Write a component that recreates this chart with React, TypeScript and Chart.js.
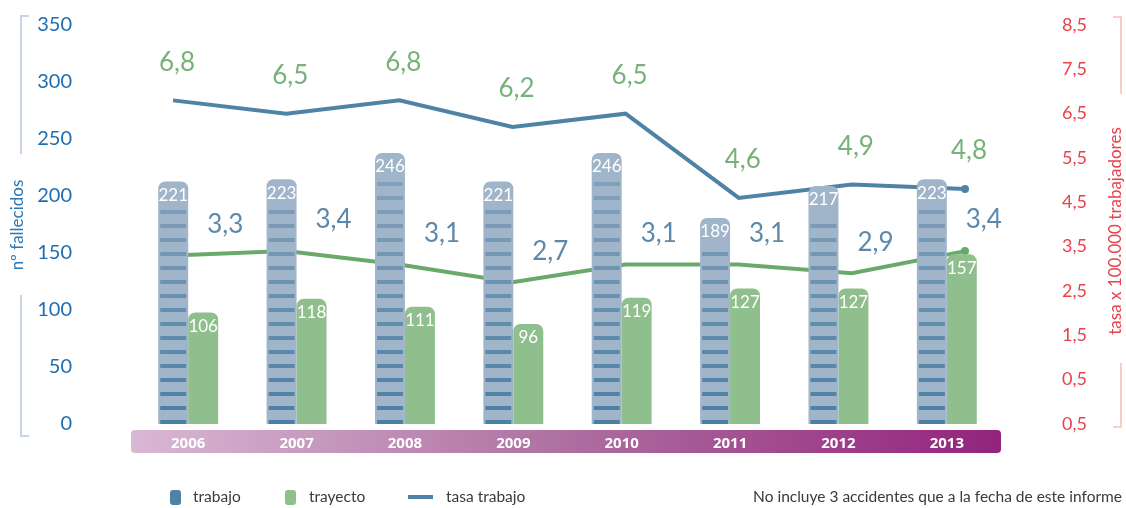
import React, { useEffect, useRef } from "react";
import { Chart, registerables } from "chart.js";
Chart.register(...registerables);

const years = ["2006", "2007", "2008", "2009", "2010", "2011", "2012", "2013"];
const trabajo = [221, 223, 246, 221, 246, 189, 217, 223];
const trayecto = [106, 118, 111, 96, 119, 127, 127, 157];
const tasaTrabajo = [6.8, 6.5, 6.8, 6.2, 6.5, 4.6, 4.9, 4.8];
const tasaTrayecto = [3.3, 3.4, 3.1, 2.7, 3.1, 3.1, 2.9, 3.4];
const rateTickLabels = ["0,5", "0,5", "1,5", "2,5", "3,5", "4,5", "5,5", "6,5", "7,5", "8,5"];
const leftTitle = "nº fallecidos";
const rightTitle = "tasa x 100.000 trabajadores";
const legendItems = ["trabajo", "trayecto", "tasa trabajo"];
const footNote = "No incluye 3 accidentes que a la fecha de este informe";

const BLUE = "#4f83a5";
const GREEN = "#6aa96c";
const W = 1126;
const H = 508;
const fmt = (v: number) => v.toFixed(1).replace(".", ",");

export default function App() {
  const lineRef = useRef<HTMLCanvasElement>(null);
  const barRef = useRef<HTMLCanvasElement>(null);
  useEffect(() => {
    document.body.style.margin = "0";

    // ---------- bottom layer: axes, band, lines, labels, legend ----------
    const frame = {
      id: "frame",
      beforeDraw(chart: any) {
        const ctx = chart.ctx;
        ctx.save();
        const g = ctx.createLinearGradient(131, 0, 1001, 0);
        g.addColorStop(0, "#d9b8d4");
        g.addColorStop(0.5, "#ae6fa1");
        g.addColorStop(1, "#93237c");
        ctx.fillStyle = g;
        ctx.beginPath();
        ctx.roundRect(131, 430, 870, 23, 4);
        ctx.fill();
        ctx.lineWidth = 2;
        ctx.strokeStyle = "#c8d4ea";
        ctx.beginPath();
        ctx.moveTo(29, 16); ctx.lineTo(21, 16); ctx.lineTo(21, 154);
        ctx.moveTo(21, 295); ctx.lineTo(21, 436); ctx.lineTo(29, 436);
        ctx.stroke();
        ctx.strokeStyle = "#f7cfc6";
        ctx.beginPath();
        ctx.moveTo(1113, 17); ctx.lineTo(1121, 17); ctx.lineTo(1121, 94);
        ctx.moveTo(1121, 363); ctx.lineTo(1121, 427); ctx.lineTo(1113, 427);
        ctx.stroke();
        ctx.textAlign = "center";
        ctx.textBaseline = "middle";
        ctx.font = "17px Lato";
        ctx.fillStyle = "#2b78b4";
        ctx.translate(17.5, 225);
        ctx.rotate(-Math.PI / 2);
        ctx.fillText(leftTitle, 0, 0);
        ctx.restore();
        ctx.save();
        ctx.textAlign = "center";
        ctx.textBaseline = "middle";
        ctx.font = "17px Lato";
        ctx.fillStyle = "#e8424a";
        ctx.translate(1116, 231);
        ctx.rotate(-Math.PI / 2);
        ctx.fillText(rightTitle, 0, 0);
        ctx.restore();
      },
      afterDatasetsDraw(chart: any) {
        const ctx = chart.ctx;
        ctx.save();
        ctx.textAlign = "center";
        ctx.textBaseline = "middle";
        ctx.font = "26px Lato";
        const m0 = chart.getDatasetMeta(0);
        ctx.fillStyle = "#78b27b";
        m0.data.forEach((el: any, i: number) => {
          const p = el.getProps(["x", "y"], true);
          ctx.fillText(fmt(tasaTrabajo[i]), p.x + 4, p.y - 38);
        });
        const m1 = chart.getDatasetMeta(1);
        const xs = chart.scales.x;
        ctx.fillStyle = "#5b88ab";
        m1.data.forEach((el: any, i: number) => {
          const p = el.getProps(["y"], true);
          ctx.fillText(fmt(tasaTrayecto[i]), xs.getPixelForValue(i) + 37, p.y - 31);
        });
        ctx.restore();
      },
      afterDraw(chart: any) {
        const ctx = chart.ctx;
        ctx.save();
        ctx.font = "15.5px Lato";
        ctx.textBaseline = "middle";
        const cy = 497;
        ctx.fillStyle = BLUE;
        ctx.beginPath();
        ctx.roundRect(170, cy - 7, 11, 15, 3);
        ctx.fill();
        ctx.fillStyle = "#3a3a3a";
        ctx.fillText(legendItems[0], 193, cy);
        ctx.fillStyle = "#8fbf8c";
        ctx.beginPath();
        ctx.roundRect(285, cy - 7, 11, 15, 3);
        ctx.fill();
        ctx.fillStyle = "#3a3a3a";
        ctx.fillText(legendItems[1], 309, cy);
        ctx.fillStyle = BLUE;
        ctx.fillRect(408, cy - 2, 25, 4);
        ctx.fillStyle = "#3a3a3a";
        ctx.fillText(legendItems[2], 446, cy);
        ctx.textAlign = "right";
        ctx.fillText(footNote, 1122, cy);
        ctx.restore();
      },
    };

    const lineCommon = {
      xAxisID: "xl",
      yAxisID: "yr",
      borderWidth: 4,
      pointBorderWidth: 0,
      tension: 0,
      clip: false,
    };

    const lineChart = new Chart(lineRef.current!, {
      type: "line",
      data: {
        labels: years,
        datasets: [
          {
            ...lineCommon,
            label: legendItems[2],
            data: tasaTrabajo.map((v, i) => ({ x: i, y: v })),
            borderColor: BLUE,
            backgroundColor: BLUE,
            pointRadius: tasaTrabajo.map((_, i) => (i === tasaTrabajo.length - 1 ? 4 : 0)),
          },
          {
            ...lineCommon,
            label: "tasa trayecto",
            data: tasaTrayecto.map((v, i) => ({ x: i, y: v })),
            borderColor: GREEN,
            backgroundColor: GREEN,
            pointRadius: tasaTrayecto.map((_, i) => (i === tasaTrayecto.length - 1 ? 4 : 0)),
          },
        ] as any,
      },
      options: {
        responsive: false,
        animation: false,
        events: [],
        layout: { padding: { top: 25, left: 0, right: 0, bottom: 0 } },
        plugins: { legend: { display: false }, tooltip: { enabled: false } },
        scales: {
          x: {
            type: "category",
            position: "bottom",
            offset: true,
            grid: { display: false, drawTicks: false },
            border: { display: false },
            ticks: {
              color: "#ffffff",
              font: { family: "Open Sans", size: 15, weight: "bold" },
              padding: 11,
              maxRotation: 0,
              autoSkip: false,
            },
            afterFit: (s: any) => { s.height = 84; },
          },
          xl: { type: "linear", display: false, offset: false, min: -0.345, max: 7.318 },
          y: {
            type: "linear",
            position: "left",
            min: 0,
            max: 350,
            grid: { display: false, drawTicks: false },
            border: { display: false },
            ticks: { stepSize: 50, color: "#1f6db2", font: { family: "Lato", size: 20 }, padding: 62 },
            afterFit: (s: any) => { s.width = 134; s.paddingTop = 0; s.paddingBottom = 0; },
          },
          yr: {
            type: "linear",
            position: "right",
            min: -0.5,
            max: 8.5,
            grid: { display: false, drawTicks: false },
            border: { display: false },
            ticks: {
              stepSize: 1,
              color: "#e8424a",
              font: { family: "Lato", size: 18 },
              padding: 61,
              callback: (_v: any, i: number) => rateTickLabels[i],
            },
            afterFit: (s: any) => { s.width = 125; s.paddingTop = 0; s.paddingBottom = 0; },
          },
        } as any,
      },
      plugins: [frame],
    });

    // ---------- top layer: bars ----------
    const barDecor = {
      id: "barDecor",
      afterDatasetsDraw(chart: any) {
        const ctx = chart.ctx;
        const area = chart.chartArea;
        ctx.save();
        const sg = ctx.createLinearGradient(0, 150, 0, area.bottom);
        sg.addColorStop(0, "#8aa5be");
        sg.addColorStop(1, "#4a7fa4");
        ctx.fillStyle = sg;
        chart.getDatasetMeta(0).data.forEach((el: any) => {
          const p = el.getProps(["x", "y", "base", "width"], true);
          const left = p.x - p.width / 2 + 2;
          const w = p.width - 4;
          const bottom = Math.min(p.base, area.bottom);
          for (let yy = bottom - 4; yy >= p.y + 28; yy -= 14) ctx.fillRect(left, yy, w, 4);
        });
        ctx.fillStyle = "#ffffff";
        ctx.font = "17px Lato";
        ctx.textAlign = "center";
        ctx.textBaseline = "middle";
        [0, 1].forEach((di) => {
          const vals = di === 0 ? trabajo : trayecto;
          chart.getDatasetMeta(di).data.forEach((el: any, i: number) => {
            const p = el.getProps(["x", "y"], true);
            ctx.fillText(String(vals[i]), p.x, p.y + 14);
          });
        });
        ctx.restore();
      },
    };

    const barCommon = {
      borderRadius: { topLeft: 7, topRight: 7, bottomLeft: 0, bottomRight: 0 },
      borderSkipped: false,
      categoryPercentage: 0.553,
      barPercentage: 1,
      yAxisID: "yb",
      clip: { left: false, right: false, top: false, bottom: 0 },
    };

    const barChart = new Chart(barRef.current!, {
      type: "bar",
      data: {
        labels: years,
        datasets: [
          { ...barCommon, label: legendItems[0], data: trabajo, backgroundColor: "#a0b5ca" },
          { ...barCommon, label: legendItems[1], data: trayecto, backgroundColor: "#8fbf8c" },
        ] as any,
      },
      options: {
        responsive: false,
        animation: false,
        events: [],
        layout: { padding: { top: 25, left: 134, right: 125, bottom: 84 } },
        plugins: { legend: { display: false }, tooltip: { enabled: false } },
        scales: {
          x: { type: "category", display: false, offset: true },
          yb: { type: "linear", display: false, min: 8.2, max: 358.2 },
        } as any,
      },
      plugins: [barDecor],
    });

    return () => {
      lineChart.destroy();
      barChart.destroy();
    };
  }, []);

  const layer: React.CSSProperties = { position: "absolute", left: 0, top: 0, width: W, height: H, display: "block" };
  return (
    <div style={{ position: "relative", width: W, height: H }}>
      <canvas ref={lineRef} width={W} height={H} style={layer} />
      <canvas ref={barRef} width={W} height={H} style={{ ...layer, pointerEvents: "none" }} />
    </div>
  );
}
